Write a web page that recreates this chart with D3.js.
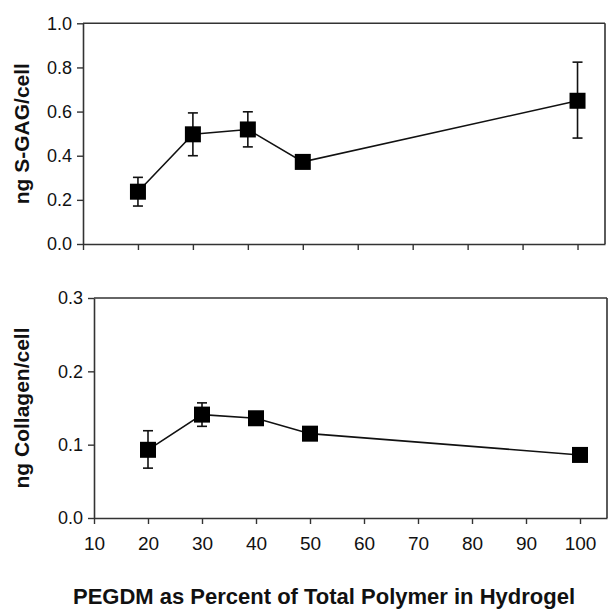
<!DOCTYPE html>
<html>
<head>
<meta charset="utf-8">
<script src="https://cdn.jsdelivr.net/npm/d3@7"></script>
<style>
body{margin:0;background:#fff;}
svg{display:block;}
text{font-family:"Liberation Sans",Arial,sans-serif;fill:#111;}
</style>
</head>
<body>
<svg id="chart" width="608" height="610"></svg>
<script>
const pegdm = [20, 30, 40, 50, 100];
const gag = [0.237, 0.497, 0.519, 0.372, 0.649];
const gagLow = [0.172, 0.40, 0.44, 0.372, 0.48];
const gagHigh = [0.302, 0.594, 0.599, 0.372, 0.824];
const collagen = [0.093, 0.141, 0.136, 0.115, 0.086];
const colLow = [0.068, 0.125, 0.136, 0.115, 0.086];
const colHigh = [0.119, 0.157, 0.136, 0.115, 0.086];
const xTicks = [10, 20, 30, 40, 50, 60, 70, 80, 90, 100];
const gagTicks = [0.0, 0.2, 0.4, 0.6, 0.8, 1.0];
const colTicks = [0.0, 0.1, 0.2, 0.3];
const xTitle = "PEGDM as Percent of Total Polymer in Hydrogel";
const gagTitle = "ng S-GAG/cell";
const colTitle = "ng Collagen/cell";

const svg = d3.select("#chart");
const axisColor = "#333";

function panel(cfg) {
  const x = d3.scaleLinear().domain([10, 105]).range([cfg.left, cfg.right]);
  const y = d3.scaleLinear().domain(cfg.yDomain).range([cfg.bottom, cfg.top]);
  const g = svg.append("g");

  g.append("line").attr("x1", cfg.left).attr("x2", cfg.right).attr("y1", cfg.top).attr("y2", cfg.top)
    .attr("stroke", axisColor).attr("stroke-width", 1.6);
  g.append("line").attr("x1", cfg.right).attr("x2", cfg.right).attr("y1", cfg.top).attr("y2", cfg.bottom)
    .attr("stroke", axisColor).attr("stroke-width", 1.6);

  const xa = g.append("g").attr("transform", `translate(0,${cfg.bottom})`)
    .call(d3.axisBottom(x).tickValues(xTicks).tickSize(6).tickSizeOuter(0)
      .tickFormat(cfg.xLabels ? d3.format("d") : ""));
  xa.select(".domain").attr("stroke", axisColor).attr("stroke-width", 1.6);
  xa.selectAll(".tick line").attr("stroke", axisColor).attr("stroke-width", 1.4);
  xa.selectAll(".tick text").attr("font-size", 19).attr("dy", "1.2em")
    .attr("font-family", '"Liberation Sans",Arial,sans-serif').attr("fill", "#111");

  const ya = g.append("g").attr("transform", `translate(${cfg.left},0)`)
    .call(d3.axisLeft(y).tickValues(cfg.yTicks).tickSize(6).tickSizeOuter(0)
      .tickFormat(d3.format(".1f")));
  ya.select(".domain").attr("stroke", axisColor).attr("stroke-width", 1.6);
  ya.selectAll(".tick line").attr("stroke", axisColor).attr("stroke-width", 1.4);
  ya.selectAll(".tick text").attr("font-size", 18).attr("x", -11)
    .attr("font-family", '"Liberation Sans",Arial,sans-serif').attr("fill", "#111");

  g.append("text")
    .attr("transform", `translate(${cfg.titleX},${(cfg.top + cfg.bottom) / 2}) rotate(-90)`)
    .attr("text-anchor", "middle").attr("font-weight", "bold").attr("font-size", 21)
    .text(cfg.title);

  const pts = cfg.xs.map((d, i) => ({x: d, v: cfg.vals[i], lo: cfg.lo[i], hi: cfg.hi[i]}));

  g.append("path").datum(pts)
    .attr("d", d3.line().x(d => x(d.x)).y(d => y(d.v)))
    .attr("fill", "none").attr("stroke", "#111").attr("stroke-width", 1.6);

  const eb = g.selectAll(".eb").data(pts.filter(d => d.hi > d.lo)).enter().append("g");
  eb.append("line").attr("x1", d => x(d.x)).attr("x2", d => x(d.x))
    .attr("y1", d => y(d.lo)).attr("y2", d => y(d.hi)).attr("stroke", "#111").attr("stroke-width", 1.6);
  eb.append("line").attr("x1", d => x(d.x) - 5).attr("x2", d => x(d.x) + 5)
    .attr("y1", d => y(d.lo)).attr("y2", d => y(d.lo)).attr("stroke", "#111").attr("stroke-width", 1.6);
  eb.append("line").attr("x1", d => x(d.x) - 5).attr("x2", d => x(d.x) + 5)
    .attr("y1", d => y(d.hi)).attr("y2", d => y(d.hi)).attr("stroke", "#111").attr("stroke-width", 1.6);

  const s = 16;
  g.selectAll(".m").data(pts).enter().append("rect")
    .attr("x", d => x(d.x) - s / 2).attr("y", d => y(d.v) - s / 2)
    .attr("width", s).attr("height", s).attr("fill", "#000");
}

panel({left: 83, right: 605, top: 23.3, bottom: 244, yDomain: [0, 1],
  yTicks: gagTicks, xLabels: false, title: gagTitle, titleX: 29,
  xs: pegdm, vals: gag, lo: gagLow, hi: gagHigh});

panel({left: 94, right: 607, top: 298, bottom: 518, yDomain: [0, 0.3],
  yTicks: colTicks, xLabels: true, title: colTitle, titleX: 29,
  xs: pegdm, vals: collagen, lo: colLow, hi: colHigh});

svg.append("text").attr("x", 324).attr("y", 604).attr("text-anchor", "middle")
  .attr("font-weight", "bold").attr("font-size", 22).text(xTitle);
</script>
</body>
</html>
